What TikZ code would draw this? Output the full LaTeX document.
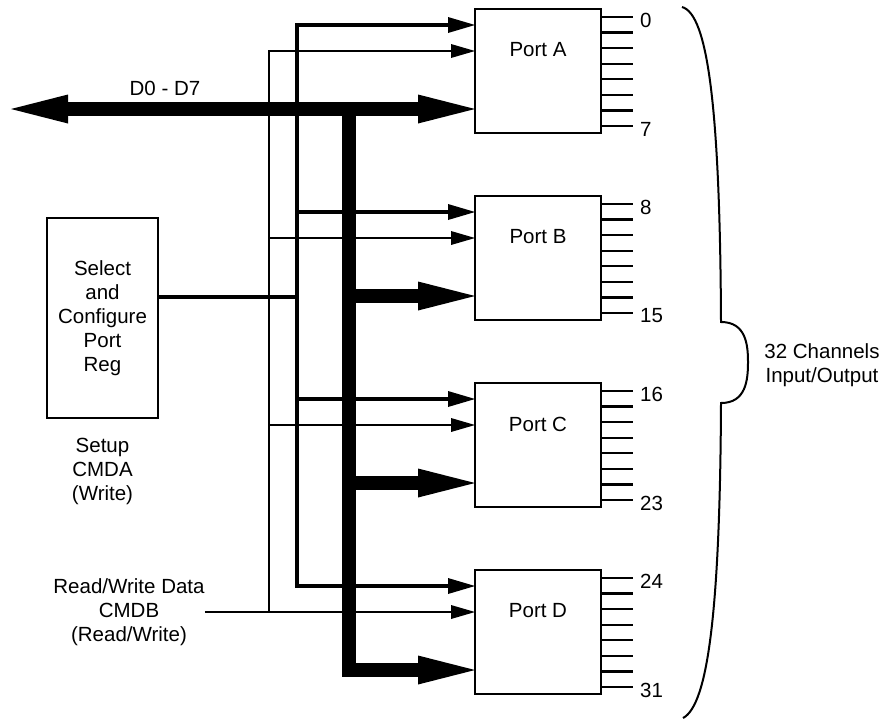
\documentclass[tikz,border=0pt]{standalone}
\usepackage{fontspec}
\setmainfont{Liberation Sans}
\usetikzlibrary{arrows.meta,positioning,calc}

\tikzset{
  bustip/.tip={Triangle[length=57pt, width=29pt, line width=0pt]},
}

\begin{document}
\begin{tikzpicture}[
    x=1pt, y=-1pt,
    font=\fontsize{20.5}{24}\selectfont,
    port/.style={draw, line width=2pt, outer sep=0pt, minimum width=126pt, minimum height=124pt, label={[anchor=center, yshift=-41pt]north:#1}},
    regbox/.style={draw, line width=2pt, outer sep=0pt, minimum width=111pt, minimum height=200pt, align=center},
    txt/.style={align=center, inner sep=0pt},
    pinline/.style={line width=2.4pt},
    pinnum/.style={anchor=west, inner sep=0pt},
    selline/.style={line width=3.2pt},
    rwline/.style={line width=2.4pt},
    selarrow/.style={selline, -{Triangle[length=27pt, width=16pt, line width=0pt]}},
    rwarrow/.style={rwline, -{Triangle[length=24pt, width=14pt, line width=0pt]}},
    bus/.style={line width=14pt, -bustip},
    brace/.style={line width=2pt}
  ]
    \useasboundingbox (0,0) rectangle (885,721);

    % ports
    \node[port=Port A] (pA) at (538,71) {};
    \node[port=Port B, below=63pt of pA] (pB) {};
    \node[port=Port C, below=63pt of pB] (pC) {};
    \node[port=Port D, below=63pt of pC] (pD) {};

    \foreach \p in {A,B,C,D} {
      \coordinate (p\p-sel) at ([yshift=-16pt]p\p.north west);
      \coordinate (p\p-rw) at ([yshift=-42pt]p\p.north west);
      \coordinate (p\p-dat) at ([yshift=-100pt]p\p.north west);
    }

    % channel pins
    \foreach \p/\first/\last in {A/0/7, B/8/15, C/16/23, D/24/31} {
      \foreach \i in {0,...,7}
        \draw[pinline] ([yshift={-8pt-\i*15.57pt}]p\p.north east) -- ++(32,0);
      \node[pinnum] (n\first) at ([xshift=39pt, yshift=-11pt]p\p.north east) {\first};
      \node[pinnum] (n\last) at ([xshift=39pt, yshift=-120pt]p\p.north east) {\last};
    }

    \node[regbox] (cfg) at (102.5,318) {Select\\and\\Configure\\Port\\Reg};
    \node[txt] (setup) at ([yshift=-53pt]cfg.south) {Setup\\CMDA\\(Write)};
    \node[txt] (rw) at (129,612) {Read/Write Data\\CMDB\\(Read/Write)};
    \node[txt] (dlabel) at (165,88) {D0 - D7};
    \node[txt] (chan) at (822,365) {32 Channels\\Input/Output};

    \coordinate (busl) at (11,0);
    \coordinate (busx) at (349,0);
    \coordinate (selx) at (297,0);
    \coordinate (rwx) at (269,0);
    \coordinate (cfgout) at ([yshift=21pt]cfg.east);

    % data bus
    \draw[bus, bustip-bustip] (busl |- pA-dat) -- (pA-dat);
    \draw[bus] (busx |- pA-dat) |- (pD-dat);
    \draw[bus] (busx |- pB-dat) -- (pB-dat);
    \draw[bus] (busx |- pC-dat) -- (pC-dat);

    % select lines
    \draw[selline] (cfgout) -- (cfgout -| selx);
    \draw[selarrow] (pD-sel -| selx) |- (pA-sel);
    \draw[selarrow] (pA-sel -| selx) |- (pD-sel);
    \draw[selarrow] (pB-sel -| selx) -- (pB-sel);
    \draw[selarrow] (pC-sel -| selx) -- (pC-sel);

    % read/write lines
    \draw[rwarrow] (rw.east) -- (pD-rw);
    \draw[rwarrow] (pD-rw -| rwx) |- (pA-rw);
    \draw[rwarrow] (pB-rw -| rwx) -- (pB-rw);
    \draw[rwarrow] (pC-rw -| rwx) -- (pC-rw);

    % brace
    \draw[brace] (682,7) .. controls (708,14) and (720,110) .. (721,322)
      .. controls (746,322) and (748,345) .. (748,362)
      .. controls (748,380) and (746,403) .. (721,403)
      .. controls (720,610) and (708,705) .. (683,718);

  \end{tikzpicture}
\end{document}
